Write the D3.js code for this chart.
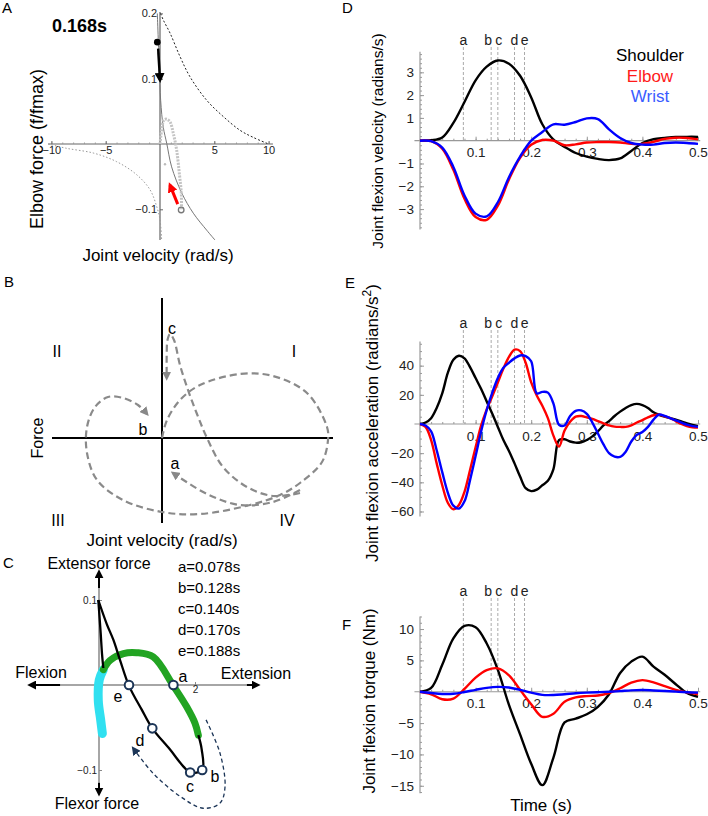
<!DOCTYPE html>
<html>
<head>
<meta charset="utf-8">
<script src="https://cdn.jsdelivr.net/npm/d3@7"></script>
<style>
body { margin: 0; background: #fff; }
svg text { font-family: "Liberation Sans", Arial, sans-serif; }
</style>
</head>
<body>
<script>
// ---------- data ----------
// event times marked a-e
var eventNames = ["a", "b", "c", "d", "e"];
var eventTimes = [0.078, 0.128, 0.140, 0.170, 0.188];
var eventLabels = ["a=0.078s", "b=0.128s", "c=0.140s", "d=0.170s", "e=0.188s"];

var seriesNames = ["Shoulder", "Elbow", "Wrist"];

// time grids
var timeD = [0, 0.02, 0.04, 0.06, 0.08, 0.10, 0.12, 0.14, 0.16, 0.18, 0.20, 0.22, 0.24,
  0.26, 0.28, 0.30, 0.32, 0.34, 0.36, 0.38, 0.40, 0.42, 0.44, 0.46, 0.48, 0.50];
var timeE = [0, 0.01, 0.02, 0.03, 0.04, 0.05, 0.06, 0.07, 0.08, 0.09, 0.10, 0.11, 0.12, 0.13,
  0.14, 0.15, 0.16, 0.17, 0.18, 0.19, 0.20, 0.21, 0.22, 0.23, 0.24, 0.25, 0.26, 0.27, 0.28,
  0.29, 0.30, 0.31, 0.32, 0.33, 0.34, 0.35, 0.36, 0.37, 0.38, 0.39, 0.40, 0.41, 0.42, 0.43,
  0.44, 0.45, 0.46, 0.47, 0.48, 0.49, 0.50];
var timeTicks = [0.1, 0.2, 0.3, 0.4, 0.5];

// D: joint flexion velocity (rad/s)
var velShoulder = [0, 0.02, 0.14, 0.78, 1.7, 2.65, 3.25, 3.52, 3.38, 2.85, 1.9, 0.72, 0.05,
  -0.27, -0.54, -0.7, -0.8, -0.85, -0.78, -0.45, -0.1, 0.07, 0.12, 0.16, 0.17, 0.17];
var velElbow = [0, -0.02, -0.35, -1.28, -2.55, -3.35, -3.47, -2.85, -1.7, -0.75, -0.18, 0.03, 0.0,
  -0.2, -0.16, -0.08, -0.06, -0.06, -0.08, -0.14, -0.14, -0.05, 0.08, 0.13, 0.12, 0.06];
var velWrist = [0, -0.02, -0.3, -1.15, -2.4, -3.2, -3.32, -2.7, -1.6, -0.7, 0.0, 0.38, 0.72,
  0.7, 0.82, 0.98, 0.95, 0.5, 0.12, -0.1, -0.17, -0.17, -0.1, -0.08, -0.1, -0.14];

// E: joint flexion acceleration (rad/s^2)
var accShoulder = [0, 1, 4, 11, 21, 35, 44, 46.8, 45, 39, 31.5, 24, 15.5, 7, -2, -11, -18.5, -27,
  -36, -44, -46, -45, -42, -39, -31, -11, -10.5, -12, -12.8, -12.5, -11, -8.5, -5, -1, 2, 5.5,
  8.5, 11, 13, 13.8, 13, 11, 8, 6.3, 5, 4, 3, 1.8, 0.5, -0.7, -1.5];
var accElbow = [0, -2, -11, -27, -42, -54, -58.5, -55.5, -46.5, -31.5, -16, -1, 10, 19, 28.5,
  38, 46, 51, 50, 42, 28.5, 19.5, 12.5, 4, -8, -15.5, -4.5, 1.5, 5, 5.5, 4.5, 3.5, 2, 0.5, -1,
  -1.8, -2, -2, -1, 1, 2.7, 4.5, 6, 6.3, 5.3, 4, 2, 0, -1.5, -2.3, -2.5];
var accWrist = [0, -1, -5, -18, -33, -47, -56, -58, -53, -38.5, -22, -5, 9.6, 21.5, 31.5, 38.5,
  42, 45, 47, 46.5, 43, 21, 22, 21.5, 14, -0.5, -1, 5.5, 9, 9.3, 7, 1, -6.5, -14, -20, -22.4,
  -22.5, -19, -12, -7.5, -5.5, -2, 3, 6.5, 5.5, 4, 2.5, 1, -0.5, -1.5, -2];

// F: joint flexion torque (Nm)
var torShoulder = [0, 0.6, 4.3, 8.5, 10.5, 10.3, 7.7, 3.5, -2.1, -6.8, -11.5, -14.9, -10.5,
  -4.9, -4.3, -3.6, -2.4, -0.4, 3.0, 4.8, 5.6, 4.0, 2.7, 1.2, -0.2, -0.8];
var torElbow = [0, -0.4, -1.2, -1.1, 0.45, 2.25, 3.45, 3.72, 2.6, 0.3, -2.0, -4.0, -3.5,
  -1.6, -0.9, -0.7, -0.6, -0.2, 0.55, 1.45, 1.85, 1.5, 0.9, 0.3, -0.1, -0.4];
var torWrist = [0, -0.2, -0.35, -0.32, -0.05, 0.3, 0.62, 0.78, 0.68, 0.3, -0.15, -0.5, -0.52,
  -0.4, -0.25, -0.15, -0.08, 0, 0.1, 0.22, 0.27, 0.2, 0.12, 0.02, -0.08, -0.15];

// A: elbow force (f/fmax) vs joint velocity (rad/s)
var aHillPos = [[0.06, 0.2], [0.3, 0.19], [0.92, 0.17], [1.84, 0.134], [2.76, 0.103],
  [4.3, 0.067], [5.83, 0.042], [7.37, 0.021], [8.6, 0.01], [10, 0]];
var aHillNeg = [[-10.3, 0], [-8.6, -0.0066], [-6.1, -0.014], [-4, -0.027], [-2.15, -0.047],
  [-0.92, -0.07], [-0.3, -0.096], [0, -0.116], [0.15, -0.147]];
var aShifted = [[-0.25, 0.2], [-0.06, 0.118], [0.06, 0.067], [0.3, 0.026], [0.62, 0.001],
  [1.07, -0.035], [2.0, -0.075], [3.07, -0.106], [4.3, -0.132], [5.06, -0.147]];
var aTrace = [[0.0, 0.0], [0.15, 0.021], [0.37, 0.037], [0.62, 0.038], [0.92, 0.034],
  [1.23, 0.016], [1.53, -0.009], [1.78, -0.045], [1.96, -0.075], [1.98, -0.1]];
var aNow = [1.95, -0.101];
var aStray = [0.46, -0.031];
var aRedArrow = [[1.63, -0.092], [0.92, -0.063]];
var aBlackDot = [-0.25, 0.156];
var aBlackArrow = [[-0.17, 0.146], [0, 0.098]];
var aXTicks = [-10, -5, 5, 10];
var aYTicks = [-0.1, 0.1, 0.2];

// B: schematic force-velocity loop (arbitrary units)
var bLoop = [[0, 0], [0.05, 0.18], [0.18, 0.38], [0.38, 0.53], [0.78, 0.64], [1.11, 0.62],
  [1.45, 0.45], [1.65, 0.11], [1.66, -0.02], [1.6, -0.24], [1.38, -0.45], [1.18, -0.57],
  [0.88, -0.67], [0.38, -0.76], [0, -0.74], [-0.39, -0.62], [-0.65, -0.42], [-0.75, -0.15],
  [-0.75, 0.11], [-0.67, 0.31], [-0.54, 0.41], [-0.39, 0.40], [-0.24, 0.33], [-0.15, 0.24]];
var bCPath = [[1.38, -0.55], [1.11, -0.58], [0.85, -0.49], [0.61, -0.29], [0.45, 0],
  [0.35, 0.24], [0.26, 0.48], [0.18, 0.73], [0.12, 0.98], [0.08, 1.04], [0.055, 0.98],
  [0.047, 0.83], [0.047, 0.6]];
var bAPath = [[1.38, -0.52], [1.11, -0.64], [0.78, -0.67], [0.45, -0.56], [0.11, -0.35]];
var bQuadrants = [["II", -1.05, 0.87], ["I", 1.32, 0.87], ["III", -1.04, -0.82], ["IV", 1.25, -0.82]];
var bPoints = [["c", 0.1, 1.1], ["b", -0.19, 0.09], ["a", 0.13, -0.25]];

// C: elbow force vs velocity with events
var cOuter = [[2.07, -0.059], [2.14, -0.076], [2.15, -0.1], [1.9, -0.103], [1.76, -0.096],
  [1.48, -0.076], [1.11, -0.051], [0.89, -0.029], [0.625, -0.001], [0.44, 0.029],
  [0.30, 0.053], [0.16, 0.072], [-0.015, 0.1]];
var cInner = [[-0.015, 0.1], [0.006, 0.084], [0.035, 0.061], [0.0625, 0.037], [0.09, 0.02]];
var cGreen = [[0.09, 0.018], [0.23, 0.029], [0.51, 0.037], [0.785, 0.038], [1.13, 0.033],
  [1.55, -0.001], [1.83, -0.026], [2.0, -0.045], [2.07, -0.059]];
var cCyan = [[0.09, 0.018], [0.006, 0.006], [-0.015, -0.018], [0.035, -0.041], [0.07, -0.057]];
var cDashed = [[2.23, -0.041], [2.52, -0.08], [2.625, -0.12], [2.52, -0.139], [2.17, -0.145],
  [1.69, -0.131], [1.13, -0.104], [0.715, -0.0745]];
var cEvents = [[1.55, 0], [2.15, -0.1], [1.9, -0.103], [1.11, -0.051], [0.625, 0]];

// ---------- drawing ----------
var svg = d3.select("body").append("svg").attr("width", 708).attr("height", 816);
var defs = svg.append("defs");

function addMarker(id, color, size) {
  defs.append("marker")
    .attr("id", id)
    .attr("viewBox", "0 0 10 10")
    .attr("refX", 7).attr("refY", 5)
    .attr("markerWidth", size).attr("markerHeight", size)
    .attr("markerUnits", "userSpaceOnUse")
    .attr("orient", "auto")
    .append("path").attr("d", "M0,0L10,5L0,10Z").attr("fill", color);
}
addMarker("arrBlack", "#000", 10);
addMarker("arrBlackSm", "#000", 9);
addMarker("arrRed", "#f00", 10);
addMarker("arrGray", "#888", 9);
addMarker("arrNavy", "#1c3557", 9);

// plain number labels, with a real minus sign
var fmt = function(d) { return d < 0 ? "\u2212" + String(Math.abs(d)) : String(d); };

function text(g, x, y, s, size, opts) {
  opts = opts || {};
  return g.append("text").attr("x", x).attr("y", y)
    .attr("font-size", size)
    .attr("text-anchor", opts.anchor || "start")
    .attr("font-weight", opts.weight || "normal")
    .attr("fill", opts.fill || "#000")
    .text(s);
}

function rotText(g, x, y, s, size) {
  return g.append("text")
    .attr("transform", "translate(" + x + "," + y + ") rotate(-90)")
    .attr("text-anchor", "middle").attr("dy", "0.35em")
    .attr("font-size", size).text(s);
}

function tidyAxis(g, col, size) {
  g.select(".domain").remove();
  g.attr("font-family", null).attr("font-size", null);
  g.selectAll(".tick line").attr("stroke", col);
  g.selectAll(".tick text").attr("fill", "#222").attr("font-size", size);
}

// panel letters
[["A", 2, 13], ["B", 4, 287], ["C", 3, 568], ["D", 342, 13], ["E", 345, 288], ["F", 342, 630]]
  .forEach(function(p) { text(svg, p[1], p[2], p[0], 15); });

// ===== Panel A =====
var xA = d3.scaleLinear().domain([-10, 10]).range([51.4, 268.6]);
var yA = d3.scaleLinear().domain([-0.1, 0.2]).range([209.3, 13.4]);
var lineA = d3.line().x(function(d) { return xA(d[0]); }).y(function(d) { return yA(d[1]); })
  .curve(d3.curveCatmullRom);
var gA = svg.append("g");
var axA = "#666";

gA.append("line").attr("x1", xA(-10.3)).attr("x2", xA(10.4)).attr("y1", yA(0)).attr("y2", yA(0))
  .attr("stroke", axA).attr("stroke-width", 1.2);
gA.append("line").attr("x1", xA(0)).attr("x2", xA(0)).attr("y1", yA(0.202)).attr("y2", yA(-0.147))
  .attr("stroke", axA).attr("stroke-width", 1.2);

gA.append("g").attr("transform", "translate(0," + yA(0) + ")")
  .call(d3.axisBottom(xA).tickValues(d3.range(-10, 10.5, 1).filter(function(v) { return v !== 0; }))
    .tickSize(-1.5).tickFormat(""))
  .call(function(g) { tidyAxis(g, "#999", 11); });
gA.append("g").attr("transform", "translate(0," + yA(0) + ")")
  .call(d3.axisBottom(xA).tickValues(aXTicks).tickSize(-3).tickPadding(2).tickFormat(fmt))
  .call(function(g) { tidyAxis(g, axA, 11); });
gA.append("g").attr("transform", "translate(" + xA(0) + ",0)")
  .call(d3.axisLeft(yA).tickValues(aYTicks).tickSize(-3).tickPadding(3).tickFormat(fmt))
  .call(function(g) { tidyAxis(g, axA, 11); });

gA.append("path").attr("d", lineA(aHillPos)).attr("fill", "none")
  .attr("stroke", "#222").attr("stroke-width", 1).attr("stroke-dasharray", "2,2");
gA.append("path").attr("d", lineA(aHillNeg)).attr("fill", "none")
  .attr("stroke", "#999").attr("stroke-width", 1).attr("stroke-dasharray", "1.5,2");
gA.append("path").attr("d", lineA(aShifted)).attr("fill", "none")
  .attr("stroke", "#777").attr("stroke-width", 1);
gA.append("path").attr("d", lineA(aTrace)).attr("fill", "none")
  .attr("stroke", "#c4c4c4").attr("stroke-width", 3).attr("stroke-dasharray", "2,1.2");
gA.append("circle").attr("cx", xA(aNow[0])).attr("cy", yA(aNow[1])).attr("r", 2.8)
  .attr("fill", "none").attr("stroke", "#777").attr("stroke-width", 1.3);
gA.append("circle").attr("cx", xA(aStray[0])).attr("cy", yA(aStray[1])).attr("r", 1.2).attr("fill", "#bbb");
gA.append("line")
  .attr("x1", xA(aRedArrow[0][0])).attr("y1", yA(aRedArrow[0][1]))
  .attr("x2", xA(aRedArrow[1][0])).attr("y2", yA(aRedArrow[1][1]))
  .attr("stroke", "#f00").attr("stroke-width", 3).attr("marker-end", "url(#arrRed)");
gA.append("circle").attr("cx", xA(aBlackDot[0])).attr("cy", yA(aBlackDot[1])).attr("r", 3.3).attr("fill", "#000");
gA.append("line")
  .attr("x1", xA(aBlackArrow[0][0])).attr("y1", yA(aBlackArrow[0][1]))
  .attr("x2", xA(aBlackArrow[1][0])).attr("y2", yA(aBlackArrow[1][1]))
  .attr("stroke", "#000").attr("stroke-width", 2.5).attr("marker-end", "url(#arrBlack)");

text(gA, 52, 32, "0.168s", 18, { weight: "bold" });
rotText(gA, 37, 149, "Elbow force (f/fmax)", 18);
text(gA, 158, 261, "Joint velocity (rad/s)", 17, { anchor: "middle" });

// ===== Panel B =====
var xB = d3.scaleLinear().domain([-1.1, 1.7]).range([52, 332]);
var yB = d3.scaleLinear().domain([-0.85, 1.4]).range([523, 298]);
var lineB = d3.line().x(function(d) { return xB(d[0]); }).y(function(d) { return yB(d[1]); })
  .curve(d3.curveCatmullRom);
var gB = svg.append("g");

gB.append("line").attr("x1", xB(-1.1)).attr("x2", xB(1.71)).attr("y1", yB(0)).attr("y2", yB(0))
  .attr("stroke", "#000").attr("stroke-width", 2);
gB.append("line").attr("x1", xB(0)).attr("x2", xB(0)).attr("y1", yB(1.4)).attr("y2", yB(-0.85))
  .attr("stroke", "#000").attr("stroke-width", 2);

[bLoop, bCPath, bAPath].forEach(function(pts) {
  gB.append("path").attr("d", lineB(pts)).attr("fill", "none")
    .attr("stroke", "#8a8a8a").attr("stroke-width", 2.2).attr("stroke-dasharray", "7,4")
    .attr("marker-end", "url(#arrGray)");
});

bQuadrants.forEach(function(q) {
  text(gB, xB(q[1]), yB(q[2]) + 6, q[0], 16, { anchor: "middle" });
});
bPoints.forEach(function(p) {
  text(gB, xB(p[1]), yB(p[2]) + 6, p[0], 16, { anchor: "middle" });
});
rotText(gB, 37, 438, "Force", 16);
text(gB, 162, 546, "Joint velocity (rad/s)", 17, { anchor: "middle" });

// ===== Panel C =====
var xC = d3.scaleLinear().domain([0, 2]).range([99, 195]);
var yC = d3.scaleLinear().domain([-0.1, 0.1]).range([770, 600]);
var lineC = d3.line().x(function(d) { return xC(d[0]); }).y(function(d) { return yC(d[1]); })
  .curve(d3.curveCatmullRom);
var gC = svg.append("g");

gC.append("line").attr("x1", xC(-0.81)).attr("x2", xC(3.08)).attr("y1", yC(0)).attr("y2", yC(0))
  .attr("stroke", "#888").attr("stroke-width", 1.5);
gC.append("line").attr("x1", xC(0)).attr("x2", xC(0)).attr("y1", yC(0.114)).attr("y2", yC(-0.115))
  .attr("stroke", "#888").attr("stroke-width", 1.5);
[[[-0.81, 0], [-1.44, 0]], [[3.08, 0], [3.31, 0]], [[0, 0.114], [0, 0.133]], [[0, -0.115], [0, -0.128]]]
  .forEach(function(s) {
    gC.append("line").attr("x1", xC(s[0][0])).attr("y1", yC(s[0][1]))
      .attr("x2", xC(s[1][0])).attr("y2", yC(s[1][1]))
      .attr("stroke", "#000").attr("stroke-width", 2).attr("marker-end", "url(#arrBlackSm)");
  });
gC.append("g").attr("transform", "translate(" + xC(0) + ",0)")
  .call(d3.axisLeft(yC).tickValues([-0.1, 0.1]).tickSize(-3).tickPadding(2).tickFormat(fmt))
  .call(function(g) { tidyAxis(g, "#888", 10); });
gC.append("g").attr("transform", "translate(0," + yC(0) + ")")
  .call(d3.axisBottom(xC).tickValues([2]).tickSize(-3).tickPadding(1).tickFormat(fmt))
  .call(function(g) { tidyAxis(g, "#888", 10); });

gC.append("path").attr("d", lineC(cCyan)).attr("fill", "none")
  .attr("stroke", "#30e0f0").attr("stroke-width", 9).attr("stroke-linecap", "round");
gC.append("path").attr("d", lineC(cGreen)).attr("fill", "none")
  .attr("stroke", "#22a422").attr("stroke-width", 7).attr("stroke-linecap", "round");
gC.append("path").attr("d", lineC(cOuter)).attr("fill", "none")
  .attr("stroke", "#000").attr("stroke-width", 2.3);
gC.append("path").attr("d", lineC(cInner)).attr("fill", "none")
  .attr("stroke", "#000").attr("stroke-width", 2.3);
gC.append("path").attr("d", lineC(cDashed)).attr("fill", "none")
  .attr("stroke", "#1c3557").attr("stroke-width", 1.3).attr("stroke-dasharray", "4,3")
  .attr("marker-end", "url(#arrNavy)");
gC.selectAll("circle.ev").data(cEvents).enter().append("circle")
  .attr("cx", function(d) { return xC(d[0]); }).attr("cy", function(d) { return yC(d[1]); })
  .attr("r", 4.3).attr("fill", "#fff").attr("stroke", "#1c3557").attr("stroke-width", 2);

var cEventText = [[183, 682], [215, 782], [190, 792], [140, 746], [118, 702]];
eventNames.forEach(function(n, i) {
  text(gC, cEventText[i][0], cEventText[i][1], n, 16, { anchor: "middle" });
});
eventLabels.forEach(function(s, i) {
  text(gC, 178, 572 + i * 21, s, 15);
});
text(gC, 99, 569, "Extensor force", 16, { anchor: "middle" });
text(gC, 97, 809, "Flexor force", 16, { anchor: "middle" });
text(gC, 41, 678, "Flexion", 16, { anchor: "middle" });
text(gC, 256, 679, "Extension", 16, { anchor: "middle" });

// ===== Panels D, E, F =====
var colors = ["#000", "#ff0000", "#0000ff"];
var xT = d3.scaleLinear().domain([0, 0.5]).range([420, 698]);

function timePanel(opt) {
  var y = d3.scaleLinear().domain(opt.yDomain).range(opt.yRange);
  var g = svg.append("g");
  var axCol = "#999";

  eventTimes.forEach(function(t, i) {
    g.append("line").attr("x1", xT(t)).attr("x2", xT(t))
      .attr("y1", opt.eventTop).attr("y2", y(0))
      .attr("stroke", "#aaa").attr("stroke-width", 1).attr("stroke-dasharray", "3,2");
    var dx = eventNames[i] === "b" ? -3 : (eventNames[i] === "c" ? 1 : 0);
    text(g, xT(t) + dx, opt.eventTop - 2, eventNames[i], 14, { anchor: "middle", fill: "#222" });
  });

  g.append("line").attr("x1", xT(-0.01)).attr("x2", xT(0.504)).attr("y1", y(0)).attr("y2", y(0))
    .attr("stroke", axCol).attr("stroke-width", 1.2);
  g.append("line").attr("x1", xT(0)).attr("x2", xT(0))
    .attr("y1", y(opt.yDomain[1])).attr("y2", y(opt.yDomain[0]))
    .attr("stroke", axCol).attr("stroke-width", 1.2);

  g.append("g").attr("transform", "translate(0," + y(0) + ")")
    .call(d3.axisBottom(xT).tickValues(d3.range(0.02, 0.5, 0.02)).tickSize(-2).tickFormat(""))
    .call(function(a) { tidyAxis(a, axCol, 13.5); });
  g.append("g").attr("transform", "translate(0," + y(0) + ")")
    .call(d3.axisBottom(xT).tickValues(timeTicks).tickSize(-4).tickPadding(7).tickFormat(fmt))
    .call(function(a) { tidyAxis(a, axCol, 13.5); });
  g.append("g").attr("transform", "translate(" + xT(0) + ",0)")
    .call(d3.axisLeft(y).tickValues(opt.minor).tickSize(-2).tickFormat(""))
    .call(function(a) { tidyAxis(a, axCol, 13.5); });
  g.append("g").attr("transform", "translate(" + xT(0) + ",0)")
    .call(d3.axisLeft(y).tickValues(opt.ticks).tickSize(-4).tickPadding(6).tickFormat(fmt))
    .call(function(a) { tidyAxis(a, axCol, 13.5); });

  var line = d3.line().curve(d3.curveCatmullRom.alpha(0.5));
  opt.series.forEach(function(vals, k) {
    var pts = opt.time.map(function(t, i) { return [xT(t), y(vals[i])]; });
    g.append("path").attr("d", line(pts)).attr("fill", "none")
      .attr("stroke", colors[k]).attr("stroke-width", 2.4).attr("stroke-linejoin", "round");
  });

  var lab = rotText(g, opt.labelX, opt.labelY, opt.label, opt.labelSize);
  if (opt.sup) {
    lab.append("tspan").attr("baseline-shift", "super").attr("font-size", opt.labelSize * 0.7).text(opt.sup);
    lab.append("tspan").text(")");
  }
  return g;
}

var gD = timePanel({
  time: timeD, series: [velShoulder, velElbow, velWrist],
  yDomain: [-3.9, 3.9], yRange: [229.6, 51.8],
  ticks: [-3, -2, -1, 1, 2, 3], minor: d3.range(-3.8, 3.81, 0.2),
  eventTop: 47, label: "Joint flexion velocity (radians/s)", labelX: 378, labelY: 141, labelSize: 15.5
});
seriesNames.forEach(function(n, i) {
  text(gD, 650, 61 + i * 20.5, n, 17, { anchor: "middle", fill: ["#000", "#ff1a1a", "#3a5cff"][i] });
});

timePanel({
  time: timeE, series: [accShoulder, accElbow, accWrist],
  yDomain: [-63.5, 56.5], yRange: [516.6, 341.6],
  ticks: [-60, -40, -20, 20, 40], minor: d3.range(-60, 56, 5),
  eventTop: 330, label: "Joint flexion acceleration (radians/s", sup: "2",
  labelX: 372, labelY: 423, labelSize: 17
});

timePanel({
  time: timeD, series: [torShoulder, torElbow, torWrist],
  yDomain: [-16.2, 12], yRange: [793.3, 616.5],
  ticks: [-15, -10, -5, 5, 10], minor: d3.range(-16, 12.1, 1),
  eventTop: 598, label: "Joint flexion torque (Nm)", labelX: 369, labelY: 701, labelSize: 17
});
text(svg, 541, 811, "Time (s)", 17, { anchor: "middle" });
</script>
</body>
</html>
